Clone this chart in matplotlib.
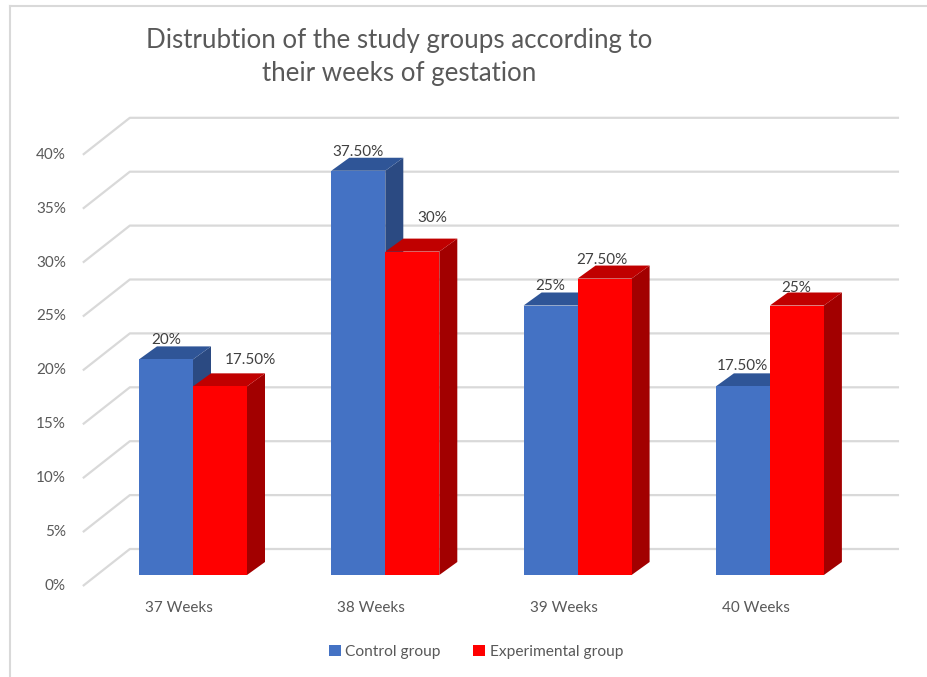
import matplotlib
matplotlib.use('Agg')
import matplotlib.pyplot as plt
from matplotlib.patches import Polygon, Patch
from matplotlib.lines import Line2D

# ── data ──
categories = ['37 Weeks', '38 Weeks', '39 Weeks', '40 Weeks']
control = [20.0, 37.5, 25.0, 17.5]
experimental = [17.5, 30.0, 27.5, 25.0]
control_labels = ['20%', '37.50%', '25%', '17.50%']
experimental_labels = ['17.50%', '30%', '27.50%', '25%']
y_ticks = [0, 5, 10, 15, 20, 25, 30, 35, 40]
series_names = ['Control group', 'Experimental group']

# ── style ──
plt.rcParams['font.family'] = ['Lato', 'DejaVu Sans']
TXT = '#595959'
BLUE = ('#4472C4', '#2F5597', '#2B4A82')   # front, top, side
RED = ('#FF0000', '#C00000', '#A20000')
GRID = '#D9D9D9'

W, H = 927, 677
PX_CAT = 192.3    # pixels per category
PX_PCT = 10.78    # pixels per percent
X0_PX, Y0_PX = 179, 586   # first category centre / 0% on the front plane

# depth offsets (data units)
FRONT = (14 / PX_CAT, 11 / PX_PCT)      # bars sit a bit behind the front edge
BAR_D = (18 / PX_CAT, 13 / PX_PCT)      # bar depth
BACK = (47 / PX_CAT, 37 / PX_PCT)       # back wall
BAR_W = 54 / PX_CAT

# label nudges in pixels (Excel moved a couple of them)
ctrl_shift = [(0, 19), (0, 19), (0, 19), (0, 20)]
exp_shift = [(30, 26), (20, 34), (-3, 19), (-1, 18)]

fig = plt.figure(figsize=(W / 100, H / 100), dpi=100)
ax = fig.add_axes([0, 0, 1, 1])
ax.set_xlim(-X0_PX / PX_CAT, (W - X0_PX) / PX_CAT)
ax.set_ylim((Y0_PX - H) / PX_PCT, Y0_PX / PX_PCT)
ax.axis('off')

n = len(categories)

# gridlines: side wall diagonal + back wall horizontal
for t in y_ticks:
    xs = [-0.5, -0.5 + BACK[0], n - 0.5 + BACK[0]]
    ys = [t, t + BACK[1], t + BACK[1]]
    ax.plot(xs, ys, color=GRID, lw=1.6, zorder=1, solid_capstyle='butt')
    ax.annotate(f'{t}%', (-0.5, t), xytext=(-17, 0), textcoords='offset pixels',
                ha='right', va='center', fontsize=11, color=TXT)


def bar3d(x0, v, cols):
    x0 += FRONT[0]
    x1 = x0 + BAR_W
    b = FRONT[1]
    top = v + FRONT[1]
    dx, dy = BAR_D
    ax.add_patch(Polygon([(x1, b), (x1 + dx, b + dy), (x1 + dx, top + dy), (x1, top)],
                         closed=True, fc=cols[2], ec='none', zorder=3))
    ax.add_patch(Polygon([(x0, top), (x1, top), (x1 + dx, top + dy), (x0 + dx, top + dy)],
                         closed=True, fc=cols[1], ec='none', zorder=3))
    ax.add_patch(Polygon([(x0, b), (x1, b), (x1, top), (x0, top)],
                         closed=True, fc=cols[0], ec='none', zorder=3))
    return (x0 + x1) / 2, top


for i in range(n):
    cx, cy = bar3d(i - BAR_W, control[i], BLUE)
    ax.annotate(control_labels[i], (cx, cy), xytext=ctrl_shift[i],
                textcoords='offset pixels', ha='center', va='center',
                fontsize=11, color='#404040', zorder=5)
    ex, ey = bar3d(i, experimental[i], RED)
    ax.annotate(experimental_labels[i], (ex, ey), xytext=exp_shift[i],
                textcoords='offset pixels', ha='center', va='center',
                fontsize=11, color='#404040', zorder=5)
    ax.annotate(categories[i], (i, 0), xytext=(0, -22), textcoords='offset pixels',
                ha='center', va='center', fontsize=11, color=TXT)

# title
fig.text(399 / W, 1 - 57 / H,
         'Distrubtion of the study groups according to\ntheir weeks of gestation',
         ha='center', va='center', multialignment='center',
         fontsize=18.6, color=TXT, linespacing=1.42)

# legend
handles = [Patch(fc=BLUE[0], ec='none'), Patch(fc=RED[0], ec='none')]
fig.legend(handles, series_names, loc='center',
           bbox_to_anchor=(476 / W, 1 - 652 / H), ncol=2, frameon=False,
           handlelength=0.75, handleheight=0.75, handletextpad=0.3,
           columnspacing=2.1, fontsize=11.2, labelcolor=TXT)

# image frame (left and top edges only)
fig.add_artist(Line2D([9.5 / W, 9.5 / W], [0, 1 - 5.5 / H], color='#D9D9D9',
                      lw=1.5, transform=fig.transFigure))
fig.add_artist(Line2D([9.5 / W, 1], [1 - 5.5 / H, 1 - 5.5 / H], color='#D9D9D9',
                      lw=1.5, transform=fig.transFigure))

fig.savefig('out.png', dpi=100, facecolor='white')
